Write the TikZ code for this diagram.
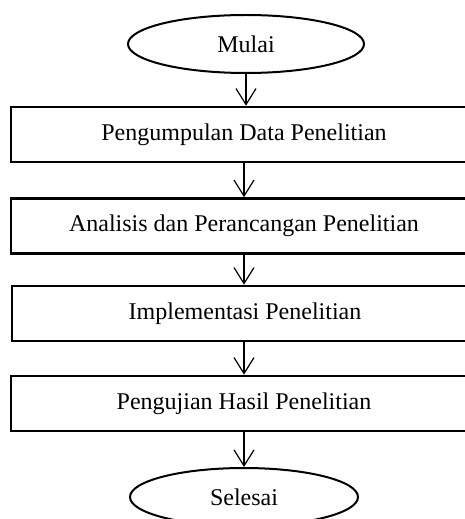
\documentclass[tikz,border=0pt]{standalone}
\usepackage{fontspec}
\setmainfont{Liberation Serif}
\usetikzlibrary{shapes.geometric,arrows.meta}
\begin{document}
\begin{tikzpicture}[x=0.5pt,y=-0.5pt,
  terminal/.style={ellipse,draw,line width=1pt,inner sep=0pt,
    minimum width=118pt,minimum height=29pt,font=\fontsize{12}{14}\selectfont},
  process/.style={rectangle,draw,line width=1.3pt,inner sep=0pt,
    minimum width=233pt,minimum height=27.5pt,font=\fontsize{12}{14}\selectfont},
  flow/.style={line width=0.6pt,-{Straight Barb[length=8pt,width=10pt,line width=0.6pt]}}]
  \useasboundingbox (0,0) rectangle (465,519);
  \clip (0,0) rectangle (465,519);

  \node[terminal] (mulai) at (246,44) {Mulai};
  \node[process] (p1) at (244,134.5) {Pengumpulan Data Penelitian};
  \node[process] (p2) at (244,226) {Analisis dan Perancangan Penelitian};
  \node[process] (p3) at (245,313.5) {Implementasi Penelitian};
  \node[process] (p4) at (244,403.5) {Pengujian Hasil Penelitian};
  \node[terminal,minimum width=114pt] (selesai) at (244,497) {Selesai};

  \draw[flow] (mulai.south) -- (mulai.south |- p1.north);
  \draw[flow] (p1.south) -- (p2.north);
  \draw[flow] (p2.south) -- (p2.south |- p3.north);
  \draw[flow] (p4.south -| selesai.north) -- (selesai.north);
  \draw[flow] (p3.south -| p4.north) -- (p4.north);
\end{tikzpicture}
\end{document}
